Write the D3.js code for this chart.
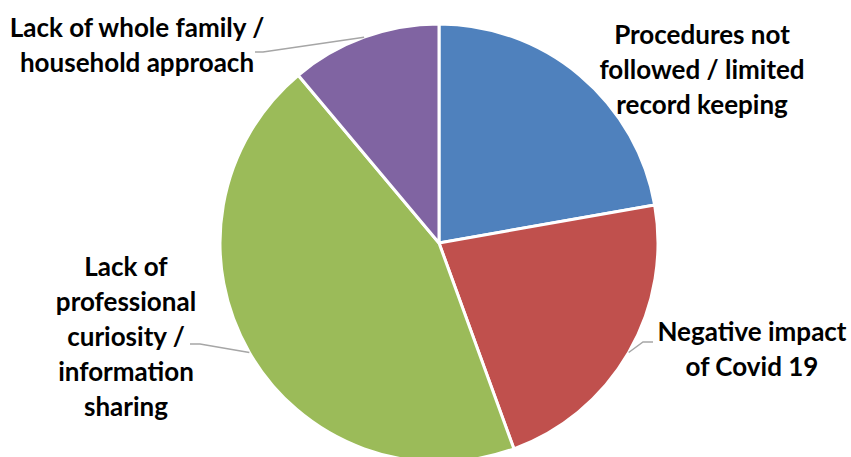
<!DOCTYPE html>
<html>
<head>
<meta charset="utf-8">
<script src="https://cdn.jsdelivr.net/npm/d3@7"></script>
<style>
  body { margin: 0; background: #fff; }
  .label text { font-family: Lato, "Open Sans", sans-serif; font-weight: bold; font-size: 26px; fill: #000; }
  .leader { fill: none; stroke: #a6a6a6; stroke-width: 1.5; }
</style>
</head>
<body>
<div id="chart"></div>
<script>
//begin: data
var categories = [
  "Procedures not followed / limited record keeping",
  "Negative impact of Covid 19",
  "Lack of professional curiosity / information sharing",
  "Lack of whole family / household approach"
];
var values = [2, 2, 4, 1];
var colors = ["#4f81bd", "#c0504d", "#9bbb59", "#8064a2"];
var labelLines = [
  ["Procedures not", "followed / limited", "record keeping"],
  ["Negative impact", "of Covid 19"],
  ["Lack of", "professional", "curiosity /", "information", "sharing"],
  ["Lack of whole family /", "household approach"]
];
//end: data

//begin: layout conf.
var width = 851, height = 457,
  center = [439, 243],
  radius = 219,
  lineHeight = 35;
// label block: centre x, first line y, leader start (null = no leader)
var labelConf = [
  { x: 702, y: 35, leader: null },
  { x: 752, y: 332, leader: [[653, 342], [643, 342]] },
  { x: 126, y: 267, leader: [[190, 344], [200, 344]] },
  { x: 137, y: 28, leader: [[255, 52], [263, 52]] }
];
//end: layout conf.

var svg = d3.select("#chart")
  .append("svg")
  .attr("width", width)
  .attr("height", height);

var pie = d3.pie().sort(null).value(function (d) { return d; });
var arcs = pie(values);

var arc = d3.arc().innerRadius(0).outerRadius(radius);
var edgeArc = d3.arc().innerRadius(radius).outerRadius(radius);

var pieG = svg.append("g")
  .attr("transform", "translate(" + center + ")");

pieG.selectAll(".slice")
  .data(arcs)
  .enter()
  .append("path")
  .classed("slice", true)
  .attr("d", arc)
  .style("fill", function (d, i) { return colors[i]; })
  .style("stroke", "#fff")
  .style("stroke-width", 3)
  .style("stroke-linejoin", "round");

// leader lines
arcs.forEach(function (d, i) {
  var conf = labelConf[i];
  if (!conf.leader) return;
  var c = edgeArc.centroid(d);
  var pts = conf.leader.concat([[c[0] + center[0], c[1] + center[1]]]);
  svg.append("path")
    .classed("leader", true)
    .attr("d", d3.line()(pts));
});

var labels = svg.selectAll(".label")
  .data(arcs)
  .enter()
  .append("g")
  .classed("label", true)
  .attr("transform", function (d, i) {
    return "translate(" + [labelConf[i].x, labelConf[i].y] + ")";
  });

labels.append("text")
  .attr("text-anchor", "middle")
  .selectAll("tspan")
  .data(function (d, i) { return labelLines[i]; })
  .enter()
  .append("tspan")
  .attr("x", 0)
  .attr("y", function (d, j) { return j * lineHeight; })
  .attr("dy", "0.35em")
  .text(function (d) { return d; });
</script>
</body>
</html>
